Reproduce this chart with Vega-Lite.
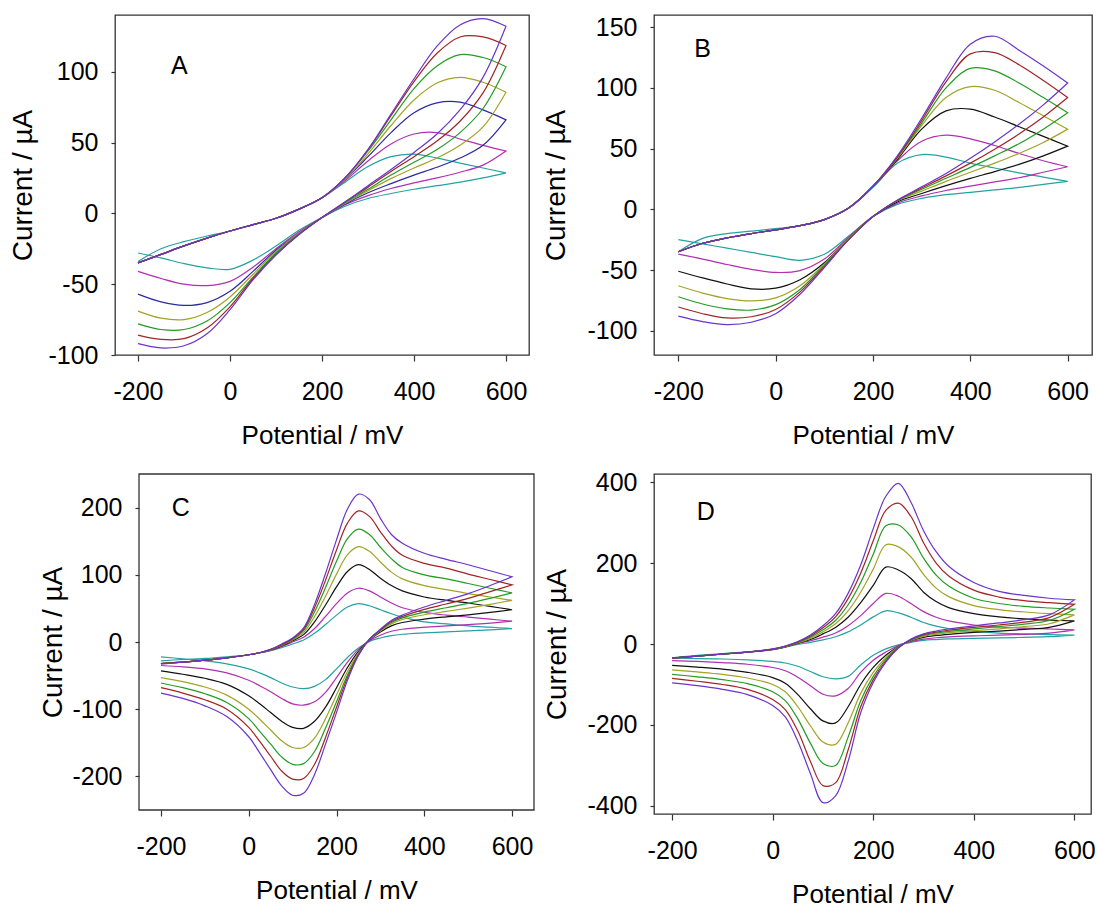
{
  "$schema": "https://vega.github.io/schema/vega-lite/v6.json",
  "background": "white",
  "padding": {"left": 9, "top": 14, "right": 0, "bottom": 0},
  "config": {
    "locale": {"number": {"decimal": ".", "thousands": ",", "grouping": [3], "currency": ["$", ""], "minus": "-"}},
    "font": "Liberation Sans",
    "view": {"stroke": "#333", "strokeWidth": 1.3},
    "axis": {"grid": false, "domain": false, "labelFont": "Liberation Sans", "titleFont": "Liberation Sans", "labelFontSize": 25, "titleFontSize": 26, "titleFontWeight": "normal", "labelColor": "#000", "titleColor": "#000", "tickColor": "#333", "tickWidth": 1.2, "labelFlush": false, "labelOverlap": false},
    "axisX": {"tickSize": 6, "labelPadding": 18, "titlePadding": 18},
    "axisY": {"tickSize": 4, "labelPadding": 13, "titlePadding": 10, "titleFontSize": 28}
  },
  "datasets": {
    "A": [
      {"o":0,"x":-200,"c1":-34,"c2":-35,"c3":-35,"c4":-35,"c5":-35,"c6":-35,"c7":-35},
      {"o":1,"x":-150,"c1":-25,"c2":-29,"c3":-29,"c4":-29,"c5":-29,"c6":-29,"c7":-29},
      {"o":2,"x":-100,"c1":-20,"c2":-23,"c3":-23,"c4":-23,"c5":-23,"c6":-23,"c7":-23},
      {"o":3,"x":-50,"c1":-16,"c2":-17.5,"c3":-17.5,"c4":-17.5,"c5":-17.5,"c6":-17.5,"c7":-17.5},
      {"o":4,"x":0,"c1":-12.5,"c2":-12.5,"c3":-12.5,"c4":-12.5,"c5":-12.5,"c6":-12.5,"c7":-12.5},
      {"o":5,"x":50,"c1":-8,"c2":-8,"c3":-8,"c4":-8,"c5":-8,"c6":-8,"c7":-8},
      {"o":6,"x":100,"c1":-3.5,"c2":-3.5,"c3":-3.5,"c4":-3.5,"c5":-3.5,"c6":-3.5,"c7":-3.5},
      {"o":7,"x":150,"c1":3,"c2":3,"c3":3,"c4":3,"c5":3,"c6":3,"c7":3},
      {"o":8,"x":200,"c1":11,"c2":11,"c3":11,"c4":11,"c5":11,"c6":11,"c7":11},
      {"o":9,"x":250,"c1":22,"c2":23,"c3":24,"c4":24,"c5":25,"c6":25,"c7":25},
      {"o":10,"x":300,"c1":33,"c2":37,"c3":40,"c4":42,"c5":44,"c6":45,"c7":45},
      {"o":11,"x":350,"c1":40,"c2":49,"c3":57,"c4":62,"c5":66,"c6":69,"c7":70},
      {"o":12,"x":400,"c1":41.8,"c2":56,"c3":71,"c4":80,"c5":88,"c6":93,"c7":95},
      {"o":13,"x":450,"c1":39,"c2":57,"c3":78,"c4":92,"c5":104,"c6":113,"c7":118},
      {"o":14,"x":500,"c1":35.5,"c2":52.5,"c3":78.5,"c4":96,"c5":112,"c6":124.5,"c7":133},
      {"o":15,"x":550,"c1":32,"c2":48,"c3":73,"c4":92.5,"c5":110,"c6":124.5,"c7":137.5},
      {"o":16,"x":600,"c1":28.6,"c2":44,"c3":66,"c4":85.5,"c5":103.5,"c6":118.5,"c7":132},
      {"o":17,"x":600,"c1":28.6,"c2":44,"c3":66,"c4":85.5,"c5":103.5,"c6":118.5,"c7":132},
      {"o":18,"x":550,"c1":25,"c2":34,"c3":48,"c4":61,"c5":74,"c6":85,"c7":96},
      {"o":19,"x":500,"c1":22,"c2":29,"c3":39,"c4":48,"c5":57,"c6":65,"c7":73},
      {"o":20,"x":450,"c1":19.5,"c2":25,"c3":32.5,"c4":39,"c5":45,"c6":51,"c7":56},
      {"o":21,"x":400,"c1":17,"c2":21.5,"c3":27,"c4":32,"c5":36,"c6":40,"c7":43},
      {"o":22,"x":350,"c1":14,"c2":17.5,"c3":21,"c4":24.5,"c5":27,"c6":29.5,"c7":31},
      {"o":23,"x":300,"c1":10.5,"c2":12.5,"c3":14.5,"c4":16,"c5":17,"c6":18.5,"c7":19.5},
      {"o":24,"x":250,"c1":5,"c2":6,"c3":6.5,"c4":7,"c5":7.5,"c6":8,"c7":8},
      {"o":25,"x":200,"c1":-3,"c2":-3,"c3":-3,"c4":-3,"c5":-3,"c6":-3,"c7":-3},
      {"o":26,"x":150,"c1":-12,"c2":-13,"c3":-14,"c4":-14,"c5":-14.5,"c6":-15,"c7":-15},
      {"o":27,"x":100,"c1":-23,"c2":-25,"c3":-26,"c4":-27,"c5":-28,"c6":-29,"c7":-29.5},
      {"o":28,"x":50,"c1":-33,"c2":-38,"c3":-41,"c4":-43,"c5":-45,"c6":-46,"c7":-47},
      {"o":29,"x":0,"c1":-39.5,"c2":-48,"c3":-55,"c4":-59,"c5":-63,"c6":-66,"c7":-68},
      {"o":30,"x":-50,"c1":-38.5,"c2":-51,"c3":-63,"c4":-70,"c5":-76,"c6":-81,"c7":-85},
      {"o":31,"x":-100,"c1":-35.5,"c2":-50,"c3":-65,"c4":-75,"c5":-82,"c6":-88.5,"c7":-93.5},
      {"o":32,"x":-150,"c1":-31.5,"c2":-46,"c3":-62.5,"c4":-74,"c5":-82,"c6":-89,"c7":-95},
      {"o":33,"x":-200,"c1":-28,"c2":-41,"c3":-57,"c4":-69,"c5":-78,"c6":-86,"c7":-92}
    ],
    "B": [
      {"o":0,"x":-200,"c1":-35,"c2":-35,"c3":-35,"c4":-35,"c5":-35,"c6":-35,"c7":-35},
      {"o":1,"x":-150,"c1":-24,"c2":-28,"c3":-28,"c4":-28,"c5":-28,"c6":-28,"c7":-28},
      {"o":2,"x":-100,"c1":-20,"c2":-23.5,"c3":-23.5,"c4":-23.5,"c5":-23.5,"c6":-23.5,"c7":-23.5},
      {"o":3,"x":-50,"c1":-18,"c2":-20,"c3":-20,"c4":-20,"c5":-20,"c6":-20,"c7":-20},
      {"o":4,"x":0,"c1":-16,"c2":-17,"c3":-17,"c4":-17,"c5":-17,"c6":-17,"c7":-17},
      {"o":5,"x":50,"c1":-13.5,"c2":-13.5,"c3":-13.5,"c4":-13.5,"c5":-13.5,"c6":-13.5,"c7":-13.5},
      {"o":6,"x":100,"c1":-8.5,"c2":-8.5,"c3":-8.5,"c4":-8.5,"c5":-8.5,"c6":-8.5,"c7":-8.5},
      {"o":7,"x":150,"c1":1,"c2":1,"c3":1,"c4":1,"c5":1,"c6":1,"c7":1},
      {"o":8,"x":200,"c1":18,"c2":19,"c3":19,"c4":19,"c5":19,"c6":19,"c7":19},
      {"o":9,"x":250,"c1":38,"c2":40,"c3":41,"c4":42,"c5":43,"c6":43,"c7":44},
      {"o":10,"x":300,"c1":45,"c2":56,"c3":66,"c4":69,"c5":71,"c6":73,"c7":75},
      {"o":11,"x":350,"c1":43,"c2":61,"c3":81,"c4":92,"c5":100,"c6":105,"c7":108},
      {"o":12,"x":400,"c1":38,"c2":58,"c3":82.5,"c4":101,"c5":116,"c6":128,"c7":136},
      {"o":13,"x":450,"c1":34,"c2":52.5,"c3":76,"c4":98,"c5":114,"c6":129,"c7":142.5},
      {"o":14,"x":500,"c1":30,"c2":46,"c3":68,"c4":88,"c5":104,"c6":119,"c7":131},
      {"o":15,"x":550,"c1":26.5,"c2":40,"c3":60,"c4":77,"c5":92,"c6":106,"c7":118},
      {"o":16,"x":600,"c1":23,"c2":35,"c3":52,"c4":66,"c5":79.5,"c6":92,"c7":104},
      {"o":17,"x":600,"c1":23,"c2":35,"c3":52,"c4":66,"c5":79.5,"c6":92,"c7":104},
      {"o":18,"x":550,"c1":20.5,"c2":30.5,"c3":44,"c4":55,"c5":66,"c6":76,"c7":86},
      {"o":19,"x":500,"c1":18,"c2":26,"c3":37,"c4":46,"c5":54,"c6":62,"c7":70},
      {"o":20,"x":450,"c1":16,"c2":22.5,"c3":31,"c4":38,"c5":44,"c6":49.5,"c7":55.5},
      {"o":21,"x":400,"c1":14,"c2":19,"c3":25.5,"c4":30.5,"c5":34.5,"c6":38,"c7":42},
      {"o":22,"x":350,"c1":12,"c2":15.5,"c3":19.5,"c4":23,"c5":25.5,"c6":27.5,"c7":29.5},
      {"o":23,"x":300,"c1":9,"c2":11,"c3":13,"c4":15,"c5":16.5,"c6":17.5,"c7":18.5},
      {"o":24,"x":250,"c1":4,"c2":5,"c3":6,"c4":7,"c5":7,"c6":7.5,"c7":7.5},
      {"o":25,"x":200,"c1":-6,"c2":-6,"c3":-6,"c4":-6,"c5":-6,"c6":-6,"c7":-6},
      {"o":26,"x":150,"c1":-22,"c2":-23,"c3":-24,"c4":-24,"c5":-25,"c6":-25,"c7":-25},
      {"o":27,"x":100,"c1":-37,"c2":-41,"c3":-44,"c4":-45,"c5":-46,"c6":-47,"c7":-48},
      {"o":28,"x":50,"c1":-42,"c2":-50.5,"c3":-58,"c4":-63,"c5":-66,"c6":-68,"c7":-70},
      {"o":29,"x":0,"c1":-39,"c2":-52,"c3":-65,"c4":-73,"c5":-78.5,"c6":-82.5,"c7":-86},
      {"o":30,"x":-50,"c1":-35.5,"c2":-49.5,"c3":-65.5,"c4":-75.5,"c5":-83,"c6":-88.5,"c7":-93},
      {"o":31,"x":-100,"c1":-32,"c2":-45.5,"c3":-61.5,"c4":-73.5,"c5":-82,"c6":-89.5,"c7":-95},
      {"o":32,"x":-150,"c1":-28.5,"c2":-41,"c3":-56.5,"c4":-69,"c5":-78,"c6":-86,"c7":-92.5},
      {"o":33,"x":-200,"c1":-25,"c2":-37,"c3":-51,"c4":-63,"c5":-72,"c6":-80.5,"c7":-88}
    ],
    "C": [
      {"o":0,"x":-200,"c1":-28,"c2":-32,"c3":-32,"c4":-32,"c5":-32,"c6":-32,"c7":-33},
      {"o":1,"x":-150,"c1":-26,"c2":-30,"c3":-30,"c4":-30,"c5":-30,"c6":-30,"c7":-30},
      {"o":2,"x":-100,"c1":-24.5,"c2":-27,"c3":-27,"c4":-27,"c5":-27,"c6":-27,"c7":-27},
      {"o":3,"x":-50,"c1":-22,"c2":-23.5,"c3":-23.5,"c4":-23.5,"c5":-23.5,"c6":-23.5,"c7":-23.5},
      {"o":4,"x":0,"c1":-19,"c2":-19,"c3":-19,"c4":-19,"c5":-19,"c6":-19,"c7":-19},
      {"o":5,"x":25,"c1":-16,"c2":-16,"c3":-16,"c4":-16,"c5":-16,"c6":-16,"c7":-16},
      {"o":6,"x":50,"c1":-13,"c2":-12.5,"c3":-12,"c4":-12,"c5":-11.5,"c6":-11,"c7":-11},
      {"o":7,"x":75,"c1":-8.5,"c2":-7,"c3":-6,"c4":-5,"c5":-4.5,"c6":-4,"c7":-3},
      {"o":8,"x":100,"c1":-3,"c2":0,"c3":2,"c4":3,"c5":4,"c6":5,"c7":6},
      {"o":9,"x":125,"c1":3,"c2":7,"c3":11,"c4":14,"c5":17,"c6":19,"c7":21},
      {"o":10,"x":150,"c1":13,"c2":20,"c3":30,"c4":38,"c5":45,"c6":51,"c7":56},
      {"o":11,"x":175,"c1":26,"c2":38,"c3":55,"c4":68,"c5":81,"c6":92,"c7":102},
      {"o":12,"x":200,"c1":40,"c2":57,"c3":82,"c4":101,"c5":120,"c6":137,"c7":152},
      {"o":13,"x":225,"c1":52,"c2":73,"c3":105,"c4":130,"c5":154,"c6":177,"c7":198},
      {"o":14,"x":250,"c1":57,"c2":80,"c3":115,"c4":142,"c5":168,"c6":195,"c7":220},
      {"o":15,"x":275,"c1":54,"c2":76,"c3":108,"c4":135,"c5":160,"c6":187,"c7":212},
      {"o":16,"x":300,"c1":48,"c2":67,"c3":95,"c4":119,"c5":141,"c6":164,"c7":184},
      {"o":17,"x":325,"c1":42,"c2":58,"c3":84,"c4":104,"c5":124,"c6":143,"c7":160},
      {"o":18,"x":350,"c1":37,"c2":51,"c3":76,"c4":94,"c5":111,"c6":129,"c7":147},
      {"o":19,"x":400,"c1":30,"c2":44,"c3":67,"c4":84,"c5":100,"c6":117,"c7":132},
      {"o":20,"x":450,"c1":27,"c2":40,"c3":62,"c4":78,"c5":94,"c6":110,"c7":123},
      {"o":21,"x":500,"c1":24,"c2":37,"c3":58,"c4":72,"c5":87,"c6":101,"c7":115},
      {"o":22,"x":550,"c1":22,"c2":34,"c3":53,"c4":67,"c5":80,"c6":93,"c7":106},
      {"o":23,"x":600,"c1":20,"c2":31,"c3":48,"c4":62,"c5":73,"c6":85,"c7":97},
      {"o":24,"x":600,"c1":20,"c2":31,"c3":48,"c4":62,"c5":73,"c6":85,"c7":97},
      {"o":25,"x":550,"c1":18,"c2":28,"c3":44,"c4":56,"c5":65,"c6":75,"c7":84},
      {"o":26,"x":500,"c1":16.5,"c2":26,"c3":40.5,"c4":50.5,"c5":57.5,"c6":65,"c7":72},
      {"o":27,"x":450,"c1":15,"c2":24,"c3":37.5,"c4":45.5,"c5":51,"c6":56.5,"c7":62},
      {"o":28,"x":400,"c1":13.5,"c2":22,"c3":34,"c4":40.5,"c5":44.5,"c6":48.5,"c7":52},
      {"o":29,"x":350,"c1":11.5,"c2":19,"c3":29,"c4":33.5,"c5":36,"c6":38,"c7":40},
      {"o":30,"x":325,"c1":9.5,"c2":16,"c3":24,"c4":27,"c5":29,"c6":30.5,"c7":32},
      {"o":31,"x":300,"c1":6,"c2":10,"c3":15,"c4":16.5,"c5":17.5,"c6":18,"c7":19},
      {"o":32,"x":275,"c1":1,"c2":2,"c3":3,"c4":3.5,"c5":4,"c6":4,"c7":4},
      {"o":33,"x":250,"c1":-9,"c2":-11,"c3":-14,"c4":-16,"c5":-18,"c6":-19,"c7":-20},
      {"o":34,"x":225,"c1":-23,"c2":-30,"c3":-38,"c4":-44,"c5":-49,"c6":-53,"c7":-57},
      {"o":35,"x":200,"c1":-40,"c2":-53,"c3":-68,"c4":-79,"c5":-89,"c6":-97,"c7":-105},
      {"o":36,"x":175,"c1":-56,"c2":-75,"c3":-97,"c4":-114,"c5":-128,"c6":-142,"c7":-152},
      {"o":37,"x":150,"c1":-66,"c2":-89,"c3":-118,"c4":-143,"c5":-163,"c6":-182,"c7":-197},
      {"o":38,"x":125,"c1":-69.5,"c2":-94,"c3":-128.5,"c4":-157,"c5":-181,"c6":-203,"c7":-225},
      {"o":39,"x":100,"c1":-67,"c2":-92,"c3":-127,"c4":-157,"c5":-182,"c6":-204,"c7":-228},
      {"o":40,"x":75,"c1":-61,"c2":-84,"c3":-118,"c4":-147,"c5":-171,"c6":-192,"c7":-214},
      {"o":41,"x":50,"c1":-53,"c2":-74,"c3":-105,"c4":-131,"c5":-152,"c6":-170,"c7":-190},
      {"o":42,"x":25,"c1":-46,"c2":-65,"c3":-92,"c4":-115,"c5":-133,"c6":-148,"c7":-165},
      {"o":43,"x":0,"c1":-40,"c2":-57,"c3":-80,"c4":-100,"c5":-114,"c6":-127,"c7":-141},
      {"o":44,"x":-50,"c1":-32.5,"c2":-46,"c3":-63,"c4":-79,"c5":-90,"c6":-100,"c7":-111},
      {"o":45,"x":-100,"c1":-28,"c2":-40,"c3":-54,"c4":-67,"c5":-77,"c6":-86,"c7":-95},
      {"o":46,"x":-150,"c1":-25,"c2":-37,"c3":-48,"c4":-59,"c5":-68,"c6":-76,"c7":-84},
      {"o":47,"x":-200,"c1":-22,"c2":-35,"c3":-43,"c4":-53,"c5":-61,"c6":-68,"c7":-76}
    ],
    "D": [
      {"o":0,"x":-200,"c1":-34,"c2":-35,"c3":-35,"c4":-35,"c5":-35,"c6":-35,"c7":-35},
      {"o":1,"x":-150,"c1":-28,"c2":-30,"c3":-30,"c4":-30,"c5":-30,"c6":-30,"c7":-30},
      {"o":2,"x":-100,"c1":-24,"c2":-25,"c3":-25,"c4":-25,"c5":-25,"c6":-25,"c7":-25},
      {"o":3,"x":-50,"c1":-19.5,"c2":-20,"c3":-20,"c4":-20,"c5":-20,"c6":-20,"c7":-20},
      {"o":4,"x":0,"c1":-14,"c2":-14,"c3":-13.5,"c4":-13,"c5":-13,"c6":-12.5,"c7":-12},
      {"o":5,"x":25,"c1":-8,"c2":-7.5,"c3":-7,"c4":-6.5,"c5":-6,"c6":-5.5,"c7":-5},
      {"o":6,"x":50,"c1":-1,"c2":1,"c3":2,"c4":3,"c5":4,"c6":5,"c7":6},
      {"o":7,"x":75,"c1":4,"c2":8,"c3":11,"c4":14,"c5":17,"c6":20,"c7":22},
      {"o":8,"x":100,"c1":10,"c2":17,"c3":25,"c4":30,"c5":35,"c6":40,"c7":45},
      {"o":9,"x":125,"c1":18,"c2":27,"c3":41,"c4":50,"c5":58,"c6":67,"c7":75},
      {"o":10,"x":150,"c1":30,"c2":45,"c3":66,"c4":82,"c5":97,"c6":112,"c7":125},
      {"o":11,"x":175,"c1":47,"c2":70,"c3":102,"c4":128,"c5":152,"c6":175,"c7":195},
      {"o":12,"x":200,"c1":67,"c2":100,"c3":145,"c4":185,"c5":222,"c6":255,"c7":285},
      {"o":13,"x":225,"c1":82,"c2":125,"c3":190,"c4":245,"c5":292,"c6":330,"c7":365},
      {"o":14,"x":250,"c1":77,"c2":118,"c3":183,"c4":240,"c5":294,"c6":348,"c7":397},
      {"o":15,"x":275,"c1":66,"c2":100,"c3":162,"c4":215,"c5":265,"c6":315,"c7":350},
      {"o":16,"x":300,"c1":53,"c2":80,"c3":128,"c4":172,"c5":212,"c6":250,"c7":280},
      {"o":17,"x":325,"c1":44,"c2":66,"c3":105,"c4":138,"c5":170,"c6":200,"c7":228},
      {"o":18,"x":350,"c1":38,"c2":57,"c3":90,"c4":117,"c5":143,"c6":168,"c7":192},
      {"o":19,"x":400,"c1":31,"c2":47,"c3":75,"c4":95,"c5":113,"c6":133,"c7":152},
      {"o":20,"x":450,"c1":27,"c2":42,"c3":67,"c4":85,"c5":100,"c6":116,"c7":130},
      {"o":21,"x":500,"c1":25,"c2":39,"c3":62,"c4":79,"c5":93,"c6":107,"c7":120},
      {"o":22,"x":550,"c1":23,"c2":37,"c3":59,"c4":75,"c5":89,"c6":102,"c7":113},
      {"o":23,"x":600,"c1":22,"c2":35,"c3":57,"c4":72,"c5":86,"c6":98,"c7":109},
      {"o":24,"x":600,"c1":22,"c2":35,"c3":57,"c4":72,"c5":86,"c6":98,"c7":109},
      {"o":25,"x":550,"c1":18,"c2":27,"c3":41,"c4":50,"c5":58,"c6":65,"c7":72},
      {"o":26,"x":500,"c1":16.5,"c2":24,"c3":36,"c4":43,"c5":49,"c6":54,"c7":60},
      {"o":27,"x":450,"c1":15,"c2":22,"c3":32,"c4":37.5,"c5":43,"c6":47,"c7":52},
      {"o":28,"x":400,"c1":14,"c2":20,"c3":28.5,"c4":33,"c5":37.5,"c6":41,"c7":45},
      {"o":29,"x":350,"c1":12.5,"c2":17.5,"c3":24,"c4":28,"c5":31,"c6":34,"c7":37},
      {"o":30,"x":325,"c1":11,"c2":15.5,"c3":21,"c4":24,"c5":27,"c6":29.5,"c7":32},
      {"o":31,"x":300,"c1":9,"c2":12,"c3":16.5,"c4":19,"c5":21,"c6":23,"c7":25},
      {"o":32,"x":275,"c1":4,"c2":6,"c3":8,"c4":9,"c5":10,"c6":11,"c7":12},
      {"o":33,"x":250,"c1":-2,"c2":-4,"c3":-6,"c4":-7,"c5":-8,"c6":-9,"c7":-10},
      {"o":34,"x":225,"c1":-12,"c2":-20,"c3":-28,"c4":-34,"c5":-38,"c6":-42,"c7":-45},
      {"o":35,"x":200,"c1":-28,"c2":-40,"c3":-58,"c4":-70,"c5":-80,"c6":-88,"c7":-95},
      {"o":36,"x":175,"c1":-52,"c2":-70,"c3":-100,"c4":-122,"c5":-140,"c6":-155,"c7":-170},
      {"o":37,"x":150,"c1":-80,"c2":-110,"c3":-155,"c4":-195,"c5":-230,"c6":-262,"c7":-290},
      {"o":38,"x":125,"c1":-86,"c2":-128,"c3":-195,"c4":-248,"c5":-300,"c6":-343,"c7":-375},
      {"o":39,"x":100,"c1":-81,"c2":-124,"c3":-190,"c4":-242,"c5":-295,"c6":-350,"c7":-392},
      {"o":40,"x":75,"c1":-68,"c2":-103,"c3":-160,"c4":-202,"c5":-245,"c6":-290,"c7":-320},
      {"o":41,"x":50,"c1":-55,"c2":-82,"c3":-125,"c4":-155,"c5":-185,"c6":-215,"c7":-240},
      {"o":42,"x":25,"c1":-47,"c2":-66,"c3":-97,"c4":-118,"c5":-140,"c6":-162,"c7":-180},
      {"o":43,"x":0,"c1":-43,"c2":-58,"c3":-83,"c4":-100,"c5":-118,"c6":-137,"c7":-152},
      {"o":44,"x":-50,"c1":-39,"c2":-50,"c3":-70,"c4":-84,"c5":-98,"c6":-112,"c7":-125},
      {"o":45,"x":-100,"c1":-37,"c2":-46,"c3":-62,"c4":-75,"c5":-88,"c6":-100,"c7":-112},
      {"o":46,"x":-150,"c1":-36,"c2":-43,"c3":-57,"c4":-69,"c5":-81,"c6":-92,"c7":-103},
      {"o":47,"x":-200,"c1":-35,"c2":-41,"c3":-53,"c4":-64,"c5":-75,"c6":-85,"c7":-96}
    ]
  },
  "concat": [
    {
      "width": 414, "height": 340,
      "layer": [
        {
          "data": {"name": "A"},
          "transform": [{"fold": ["c1","c2","c3","c4","c5","c6","c7"], "as": ["s","y"]}],
          "mark": {"type": "line", "interpolate": "catmull-rom", "strokeWidth": 1.2},
          "encoding": {
            "x": {"field": "x", "type": "quantitative", "scale": {"domain": [-250, 650], "nice": false, "zero": false}, "axis": {"values": [-200, 0, 200, 400, 600], "title": "Potential / mV"}},
            "y": {"field": "y", "type": "quantitative", "scale": {"domain": [-100, 140], "nice": false, "zero": false}, "axis": {"values": [-100, -50, 0, 50, 100], "title": "Current / µA", "titlePadding": 10}},
            "color": {"field": "s", "type": "nominal", "legend": null, "scale": {"domain": ["c1","c2","c3","c4","c5","c6","c7"], "range": ["#24a2a2","#b22eb2","#2a2aa6","#a3a326","#229c22","#a22424","#6a34cc"]}},
            "order": {"field": "o", "type": "quantitative"}
          }
        },
        {
          "data": {"values": [{"x": -110, "y": 104, "t": "A"}]},
          "mark": {"type": "text", "fontSize": 25, "font": "Liberation Sans", "color": "#000"},
          "encoding": {"x": {"field": "x", "type": "quantitative"}, "y": {"field": "y", "type": "quantitative"}, "text": {"field": "t"}}
        }
      ]
    },
    {
      "width": 438, "height": 340,
      "layer": [
        {
          "data": {"name": "B"},
          "transform": [{"fold": ["c1","c2","c3","c4","c5","c6","c7"], "as": ["s","y"]}],
          "mark": {"type": "line", "interpolate": "catmull-rom", "strokeWidth": 1.2},
          "encoding": {
            "x": {"field": "x", "type": "quantitative", "scale": {"domain": [-250, 650], "nice": false, "zero": false}, "axis": {"values": [-200, 0, 200, 400, 600], "title": "Potential / mV"}},
            "y": {"field": "y", "type": "quantitative", "scale": {"domain": [-120, 160], "nice": false, "zero": false}, "axis": {"values": [-100, -50, 0, 50, 100, 150], "title": "Current / µA", "titlePadding": 16}},
            "color": {"field": "s", "type": "nominal", "legend": null, "scale": {"domain": ["c1","c2","c3","c4","c5","c6","c7"], "range": ["#24a2a2","#b22eb2","#111111","#a3a326","#229c22","#a22424","#6a34cc"]}},
            "order": {"field": "o", "type": "quantitative"}
          }
        },
        {
          "data": {"values": [{"x": -150, "y": 132, "t": "B"}]},
          "mark": {"type": "text", "fontSize": 25, "font": "Liberation Sans", "color": "#000"},
          "encoding": {"x": {"field": "x", "type": "quantitative"}, "y": {"field": "y", "type": "quantitative"}, "text": {"field": "t"}}
        }
      ]
    },
    {
      "width": 419, "height": 336,
      "view": {"stroke": null},
      "layer": [
        {
          "data": {"values": [{}]},
          "mark": {"type": "rect", "fill": null, "stroke": "#333", "strokeWidth": 1.3},
          "encoding": {"x": {"datum": -250, "type": "quantitative"}, "x2": {"datum": 650}, "y": {"datum": -250, "type": "quantitative"}, "y2": {"datum": 250}}
        },
        {
          "data": {"name": "C"},
          "transform": [{"fold": ["c1","c2","c3","c4","c5","c6","c7"], "as": ["s","y"]}],
          "mark": {"type": "line", "interpolate": "catmull-rom", "strokeWidth": 1.2},
          "encoding": {
            "x": {"field": "x", "type": "quantitative", "scale": {"domain": [-304.7, 650], "nice": false, "zero": false}, "axis": {"values": [-200, 0, 200, 400, 600], "title": "Potential / mV", "titleX": 221.5}},
            "y": {"field": "y", "type": "quantitative", "scale": {"domain": [-250, 250], "nice": false, "zero": false}, "axis": {"values": [-200, -100, 0, 100, 200], "title": "Current / µA", "titlePadding": 4, "offset": -24}},
            "color": {"field": "s", "type": "nominal", "legend": null, "scale": {"domain": ["c1","c2","c3","c4","c5","c6","c7"], "range": ["#24a2a2","#b22eb2","#111111","#a3a326","#229c22","#a22424","#6a34cc"]}},
            "order": {"field": "o", "type": "quantitative"}
          }
        },
        {
          "data": {"values": [{"x": -155, "y": 199, "t": "C"}]},
          "mark": {"type": "text", "fontSize": 25, "font": "Liberation Sans", "color": "#000"},
          "encoding": {"x": {"field": "x", "type": "quantitative"}, "y": {"field": "y", "type": "quantitative"}, "text": {"field": "t"}}
        }
      ]
    },
    {
      "width": 437, "height": 340,
      "layer": [
        {
          "data": {"name": "D"},
          "transform": [{"fold": ["c1","c2","c3","c4","c5","c6","c7"], "as": ["s","y"]}],
          "mark": {"type": "line", "interpolate": "catmull-rom", "strokeWidth": 1.2},
          "encoding": {
            "x": {"field": "x", "type": "quantitative", "scale": {"domain": [-236, 633], "nice": false, "zero": false}, "axis": {"values": [-200, 0, 200, 400, 600], "title": "Potential / mV"}},
            "y": {"field": "y", "type": "quantitative", "scale": {"domain": [-420, 420], "nice": false, "zero": false}, "axis": {"values": [-400, -200, 0, 200, 400], "title": "Current / µA", "titlePadding": 15}},
            "color": {"field": "s", "type": "nominal", "legend": null, "scale": {"domain": ["c1","c2","c3","c4","c5","c6","c7"], "range": ["#24a2a2","#b22eb2","#111111","#a3a326","#229c22","#a22424","#6a34cc"]}},
            "order": {"field": "o", "type": "quantitative"}
          }
        },
        {
          "data": {"values": [{"x": -133, "y": 327, "t": "D"}]},
          "mark": {"type": "text", "fontSize": 25, "font": "Liberation Sans", "color": "#000"},
          "encoding": {"x": {"field": "x", "type": "quantitative"}, "y": {"field": "y", "type": "quantitative"}, "text": {"field": "t"}}
        }
      ]
    }
  ],
  "columns": 2,
  "spacing": {"row": 20, "column": 7},
  "resolve": {"scale": {"color": "independent"}}
}
